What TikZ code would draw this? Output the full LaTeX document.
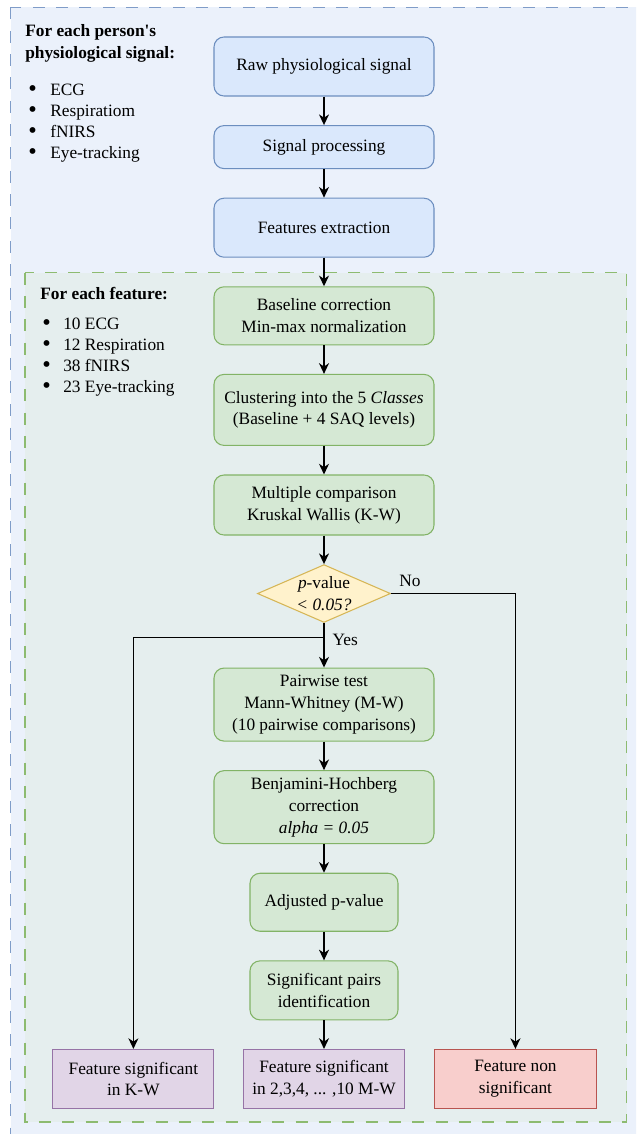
\documentclass[tikz,border=0pt]{standalone}
\usepackage{fontspec}
\setmainfont{Liberation Serif}
\usepackage{xcolor}
\usetikzlibrary{positioning, arrows.meta, shapes.geometric}

\definecolor{outerfill}{HTML}{EBF1FB}
\definecolor{outerline}{HTML}{7F9CC8}
\definecolor{innerfill}{HTML}{E5EEEE}
\definecolor{innerline}{HTML}{8DBB70}
\definecolor{bluefill}{HTML}{DAE8FC}
\definecolor{blueline}{HTML}{6C8EBF}
\definecolor{greenfill}{HTML}{D5E8D4}
\definecolor{greenline}{HTML}{82B366}
\definecolor{yellowfill}{HTML}{FFF2CC}
\definecolor{yellowline}{HTML}{D6B656}
\definecolor{purplefill}{HTML}{E1D5E7}
\definecolor{purpleline}{HTML}{9673A6}
\definecolor{redfill}{HTML}{F8CECC}
\definecolor{redline}{HTML}{B85450}

\newcommand{\dotitem}[1]{\makebox[#1][l]{\raisebox{-0.7pt}{\scalebox{1.4}{\textbullet}}}}

\begin{document}
\begin{tikzpicture}[
  x=0.75pt, y=-0.75pt,
  node distance=21.4pt,
  every node/.style={font=\fontsize{13}{16.25}\selectfont},
  bluebox/.style={draw=blueline, fill=bluefill, line width=0.8pt, rounded corners=7.5pt, minimum width=165pt, minimum height=44.25pt, align=center},
  greenbox/.style={draw=greenline, fill=greenfill, line width=0.8pt, rounded corners=7.5pt, minimum width=165pt, minimum height=44.25pt, align=center},
  decision/.style={draw=yellowline, fill=yellowfill, line width=0.8pt, diamond, aspect=2.3, inner sep=0pt, minimum width=96pt, minimum height=42pt, align=center},
  resultbox/.style={draw=purpleline, fill=purplefill, line width=0.8pt, minimum width=120.75pt, minimum height=44.25pt, align=center},
  listtext/.style={anchor=north west, inner sep=0pt, align=left, font=\fontsize{13}{15.75}\selectfont},
  frame/.style={line width=0.8pt, dash pattern=on 9pt off 8.5pt},
  arrow/.style={line width=1pt, -{Stealth[length=8pt, width=7.5pt, inset=2.5pt]}},
]

  \clip (0,0) rectangle (636,1134);

  % Frames
  \draw [frame, draw=outerline, fill=outerfill] (10.5,7.5) rectangle (660,1160);
  \draw [frame, draw=innerline, fill=innerfill] (25,272.5) rectangle (626.5,1122);

  % Lists on the left
  \node (signalhead) [listtext, font=\fontsize{13}{16.5}\selectfont\bfseries] at (25,24) {For each person\textquotesingle s\\physiological signal:};
  \node (signallist) [listtext] at (28,83.5) {\dotitem{16.5pt}ECG\\\dotitem{16.5pt}Respiratiom\\\dotitem{16.5pt}fNIRS\\\dotitem{16.5pt}Eye-tracking};
  \node (featurehead) [listtext, font=\fontsize{13}{16.5}\selectfont\bfseries] at (40,287) {For each feature:};
  \node (featurelist) [listtext] at (42,317.5) {\dotitem{15.75pt}10 ECG\\\dotitem{15.75pt}12 Respiration\\\dotitem{15.75pt}38 fNIRS\\\dotitem{15.75pt}23 Eye-tracking};

  % Signal items
  \node (raw) [bluebox] at (324,66.5) {Raw physiological signal};
  \node (proc) [bluebox, below=of raw, minimum height=32.25pt] {Signal processing};
  \node (extract) [bluebox, below=of proc] {Features extraction};

  % Feature items
  \node (baseline) [greenbox, below=of extract, minimum height=43.5pt] {Baseline correction\\Min-max normalization};
  \node (cluster) [greenbox, below=of baseline, minimum height=53.25pt] {Clustering into the 5 \textit{Classes}\\(Baseline + 4 SAQ levels)};
  \node (kw) [greenbox, below=of cluster, minimum height=45pt] {Multiple comparison\\Kruskal Wallis (K-W)};
  \node (pval) [decision, below=of kw] {\textit{p}-value\\\textit{< 0.05?}};
  \node (mw) [greenbox, below=of pval, yshift=-12pt, minimum height=54.75pt] {Pairwise test\\Mann-Whitney (M-W)\\(10 pairwise comparisons)};
  \node (bh) [greenbox, below=of mw, minimum height=54.75pt] {Benjamini-Hochberg\\correction\\\textit{alpha = 0.05}};
  \node (adj) [greenbox, below=of bh, minimum width=111pt, minimum height=43.5pt] {Adjusted p-value};
  \node (pairs) [greenbox, below=of adj, minimum width=111pt] {Significant pairs\\identification};

  % Results
  \node (sigmw) [resultbox, below=of pairs] {Feature significant\\in 2,3,4, ... ,10 M-W};
  \node (sigkw) [resultbox, left=of sigmw] {Feature significant\\in K-W};
  \node (nonsig) [resultbox, right=of sigmw, draw=redline, fill=redfill, minimum width=122pt] {Feature non\\significant};

  % Connections down the main column
  \draw [arrow] (raw) -- (proc);
  \draw [arrow] (proc) -- (extract);
  \draw [arrow] (extract) -- (baseline);
  \draw [arrow] (baseline) -- (cluster);
  \draw [arrow] (cluster) -- (kw);
  \draw [arrow] (kw) -- (pval);
  \draw [arrow] (pval) -- (mw);
  \draw [arrow] (mw) -- (bh);
  \draw [arrow] (bh) -- (adj);
  \draw [arrow] (adj) -- (pairs);
  \draw [arrow] (pairs) -- (sigmw);

  % Branches of the decision
  \coordinate (split) at ([yshift=-11pt]pval.south);
  \draw [arrow] (split) -| (sigkw.north);
  \draw [arrow] (pval.east) -| (nonsig.north);
  \node (yes) [right=3pt of split, anchor=west, yshift=-2pt] {Yes};
  \node (no) [anchor=south west, inner sep=1pt] at ([xshift=5pt, yshift=4pt]pval.east) {No};

\end{tikzpicture}
\end{document}
